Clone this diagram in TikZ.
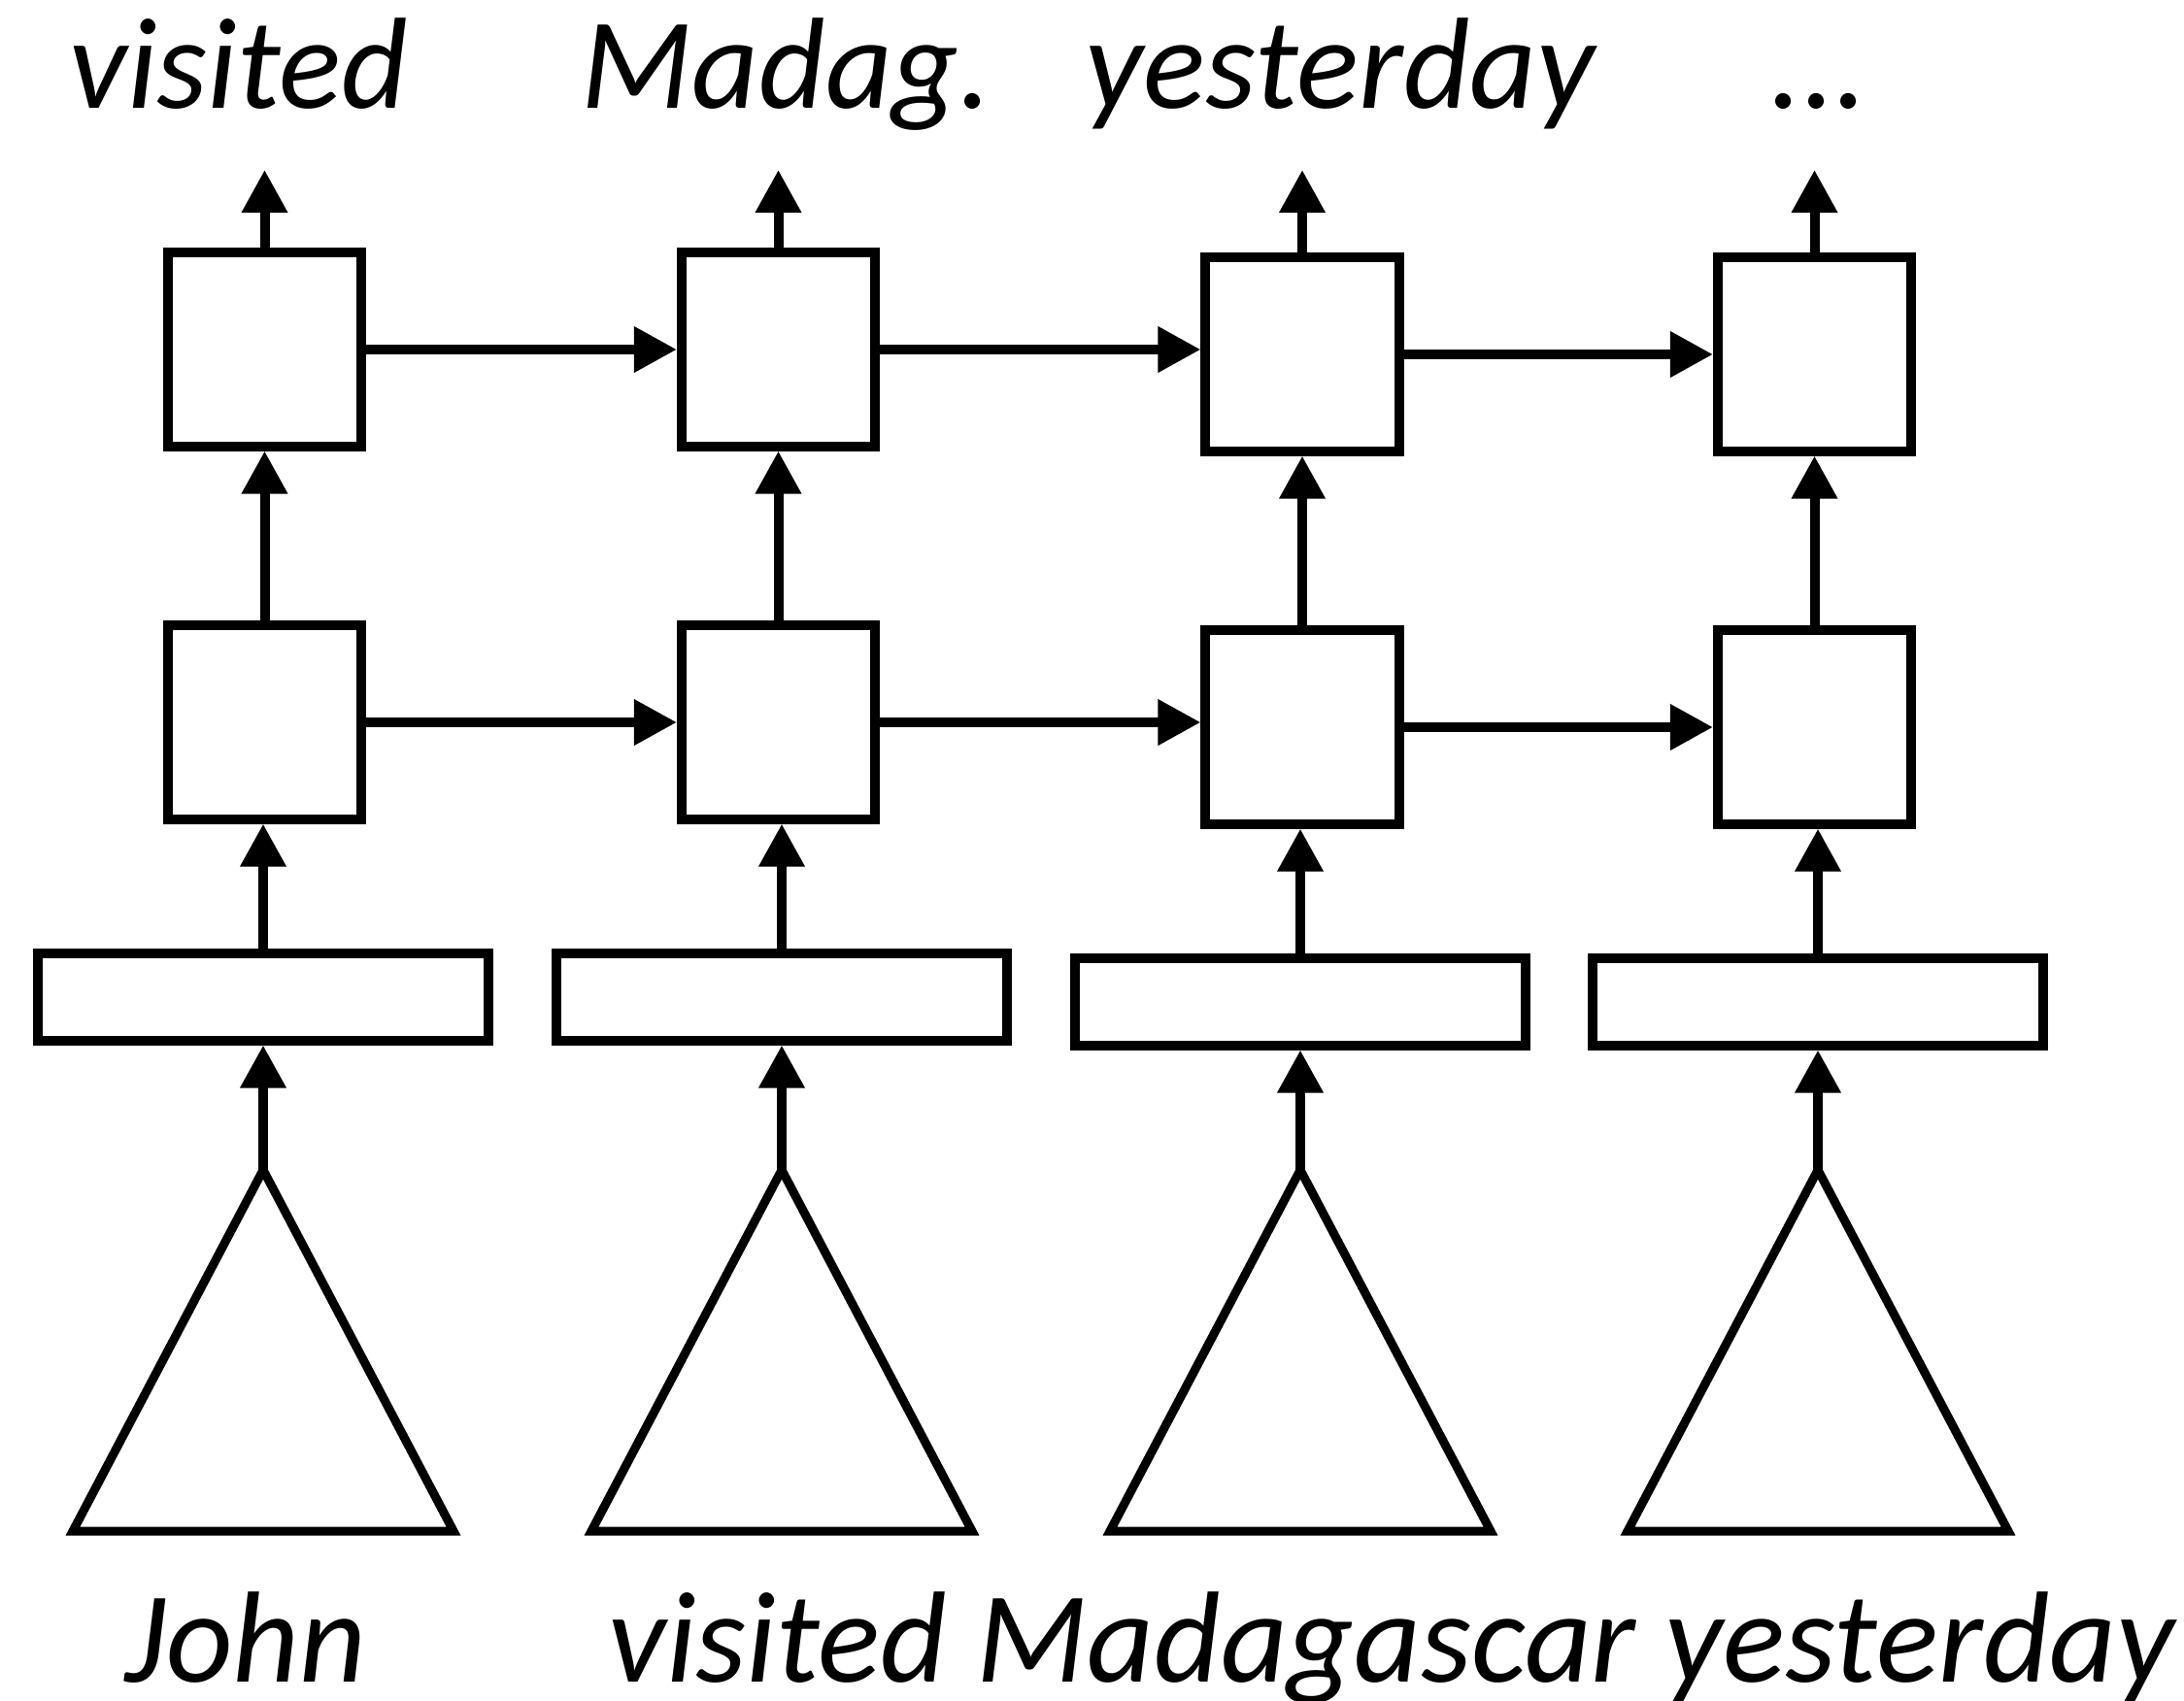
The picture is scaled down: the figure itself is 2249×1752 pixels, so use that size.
\documentclass[tikz,border=0pt]{standalone}
\usepackage{fontspec}
\setmainfont{Carlito}
\usetikzlibrary{positioning}
\usetikzlibrary{calc}
\usetikzlibrary{arrows.meta}

\begin{document}
\begin{tikzpicture}[x=0.01cm, y=-0.01cm,
    cell/.style={draw, line width=0.1cm, minimum width=1.99cm, minimum height=1.99cm, inner sep=0pt},
    embed/.style={draw, line width=0.1cm, minimum width=4.63cm, minimum height=0.89cm, inner sep=0pt},
    tree/.style={line width=0.09cm},
    conn/.style={-{Triangle[length=0.44cm,width=0.45cm]}, line width=0.1cm},
    word/.style={font=\fontsize{38}{46}\selectfont\itshape, inner sep=0pt, anchor=base}]
    \useasboundingbox (0,0) rectangle (2249,1752);
    % one column per word
    \foreach \i/\bx/\lx/\dy in {1/272.5/271/0, 2/801.5/805/0, 3/1341/1339/5, 4/1868.5/1872/5} {
        \node[cell] (a\i) at (\bx,360+\dy) {};
        \node[cell] (b\i) at (\bx,744+\dy) {};
        \node[embed] (e\i) at (\lx,1027+\dy) {};
        \coordinate (t\i) at (\lx,1205);
        \coordinate (o\i) at (\bx,175);
        \draw[tree] (t\i) -- ++(-196,372) -- ++(392,0) -- cycle;
        \draw[conn] (t\i) -- (e\i.south);
        \draw[conn] (e\i.north) -- (e\i.north |- b\i.south);
        \draw[conn] (b\i.north) -- (a\i.south);
        \draw[conn] (a\i.north) -- (o\i);
    }
    % recurrent links
    \foreach \i/\j in {1/2,2/3,3/4} {
        \draw[conn] (a\i.east) -- (a\i.east -| a\j.west);
        \draw[conn] (b\i.east) -- (b\i.east -| b\j.west);
    }
    \node[word] (l1) at (246,112) {visited};
    \node[word] (l2) at (810,112) {Madag.};
    \node[word] (l3) at (1380,112) {yesterday};
    \node[word] (l4) at (1873,112) {...};
    \node[word] (w1) at (253,1732) {John};
    \node[word] (w2) at (1433,1732) {visited Madagascar yesterday};
\end{tikzpicture}
\end{document}
